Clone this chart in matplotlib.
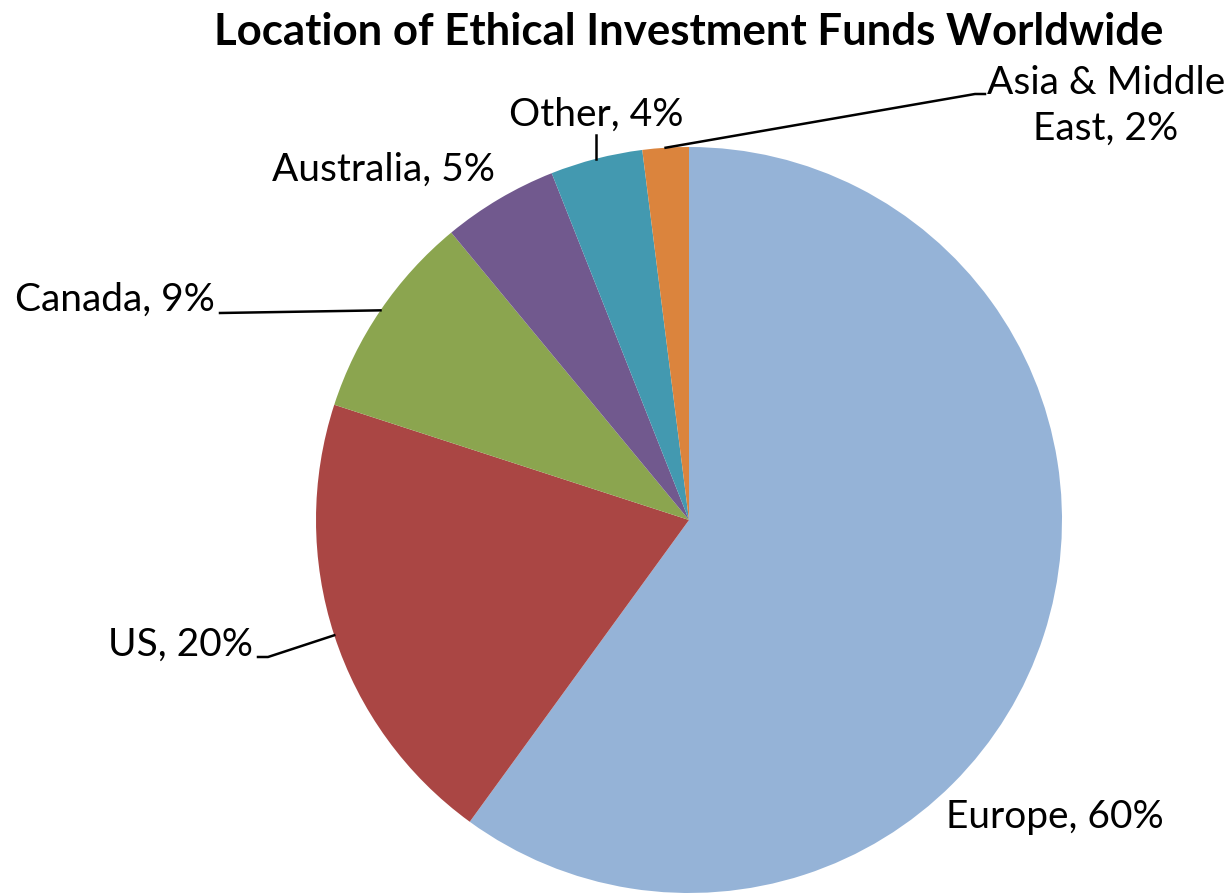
import numpy as np
import matplotlib
matplotlib.use("Agg")
import matplotlib.pyplot as plt

plt.rcParams['font.family'] = ['Lato', 'DejaVu Sans']

regions = ['Europe', 'US', 'Canada', 'Australia', 'Other', 'Asia & Middle\nEast']
shares = [60, 20, 9, 5, 4, 2]
colors = ['#95B3D7', '#AA4644', '#8BA54F', '#71598E', '#4399B0', '#DB843D']

# label text positions (pixel coords, y measured from top) and whether a leader line is drawn
label_pos = [(1055, 817), (180, 645), (115, 300), (383, 170), (596, 115), (1106, 106)]
has_leader = [False, True, True, False, True, True]

W, H = 1232, 893
fig = plt.figure(figsize=(W / 100, H / 100), dpi=100)
ax = fig.add_axes([0, 0, 1, 1])

cx, cy, r = 689, H - 520, 373
wedges, _ = ax.pie(shares, colors=colors, startangle=90, counterclock=False,
                   center=(cx, cy), radius=r, frame=True,
                   wedgeprops=dict(linewidth=0))
ax.set_xlim(0, W)
ax.set_ylim(0, H)
ax.axis('off')

for w, name, pct, (lx, ly), lead in zip(wedges, regions, shares, label_pos, has_leader):
    ang = np.deg2rad((w.theta1 + w.theta2) / 2)
    ex, ey = cx + r * np.cos(ang), cy + r * np.sin(ang)
    txt = f"{name}, {pct}%"
    ax.text(lx, H - ly, txt, ha='center', va='center', fontsize=28,
            linespacing=1.35)
    if lead:
        if name == 'Other':
            ax.plot([ex, ex], [ey, H - 135], color='black', lw=1.8)
        elif name == 'Canada':
            ax.plot([ex, 220], [ey, H - 313], color='black', lw=1.8)
        elif name == 'US':
            ax.plot([ex, 268, 258], [ey, H - 657, H - 657], color='black', lw=1.8)
        else:
            ax.plot([ex, 975, 985], [ey, H - 94, H - 94], color='black', lw=1.8)

ax.text(689, H - 32, 'Location of Ethical Investment Funds Worldwide',
        ha='center', va='center', fontsize=31.5, fontweight='bold')

fig.savefig('out.png', dpi=100)
